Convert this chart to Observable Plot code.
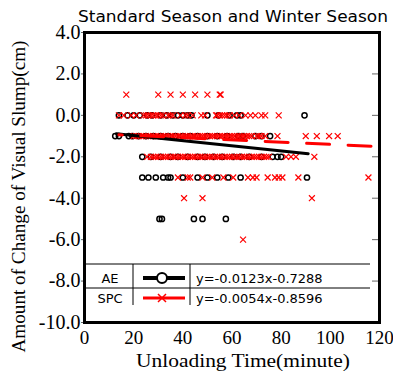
<!DOCTYPE html>
<html><head><meta charset="utf-8">
<script src="https://cdn.jsdelivr.net/npm/d3@7"></script>
<script src="https://cdn.jsdelivr.net/npm/@observablehq/plot@0.6"></script>
<style>body{margin:0;background:#fff} svg{display:block}</style>
</head><body><div id="chart"></div>
<script>
const title = "Standard Season and Winter Season";
const xLabel = "Unloading Time(minute)";
const yLabel = "Amount of Change of Visual Slump(cm)";
const xTicks = [0, 20, 40, 60, 80, 100, 120];
const yTicks = [4, 2, 0, -2, -4, -6, -8, -10];
const seriesNames = ["AE", "SPC"];
const equations = ["y=-0.0123x-0.7288", "y=-0.0054x-0.8596"];
const aeCoef = [-0.0123, -0.7288];
const spcCoef = [-0.0054, -0.8596];
const aeFitRange = [13, 91];
const spcFitRange = [14, 117];

// AE (black circles): unloading times per slump-change row
const aeRow0 = [14, 17.5, 20, 22.5, 25.5, 27.5, 31, 33.5, 36, 38, 40, 42, 43.5, 50, 54.5, 59, 62, 63.5, 89.5];
const aeRowM1 = [12.5, 14, 18, 19.5, 22, 25, 28, 31, 34, 37, 40, 43, 46, 50, 54, 58, 62.5, 64.5, 69.5, 72, 75.5];
const aeRowM2 = [23.5, 27, 31, 35, 38, 42, 46, 49, 52.5, 56, 60.5, 63.5, 67, 72, 76.5, 78.5, 80];
const aeRowM3 = [23.5, 26, 29, 32, 34, 35, 40, 46, 50, 54, 58.5, 63.5, 90.5];
const aeRowM5 = [30.5, 31.5, 44.5, 48, 57.5];

// SPC (red crosses)
const spcRow1 = [17, 30, 35, 40, 45, 50, 55, 55.4];
const spcRow0 = [14, 16, 19, 21, 24, 25, 26, 27, 28, 29, 30, 31, 32, 34, 35, 36, 39, 41, 42, 44, 47.5, 49, 53.5, 54, 55, 56, 57, 58, 59, 61, 63, 65.5, 67.5, 69.5, 72, 73.5, 79];
const spcRowM1 = [20, 21, 22, 23, 24, 25, 26, 27, 28, 29, 30, 31, 32, 33, 34, 35, 36, 37, 38, 39, 40, 41, 42, 43, 44, 45, 46, 47, 48, 49, 50, 51, 52, 53, 54, 55, 56, 57, 58, 59, 60, 61, 62, 63, 64, 65, 66, 67, 68, 70, 71, 72, 73.5, 78.5, 90, 94.5, 99.5, 103];
const spcRowM2 = [25.5, 27, 28, 29, 30, 31, 32, 33, 34, 35, 36, 37, 38, 39, 40, 41, 42, 43, 44, 45, 46, 47, 48, 49, 50, 51, 52, 53, 54, 55, 56, 57, 58, 59, 60, 61, 62, 63, 64, 65, 66, 67, 68, 69, 70, 71, 72, 73, 74, 75, 82, 84, 86, 93.5];
const spcRowM3 = [38, 42, 43, 48, 52, 56.5, 60.5, 66.5, 68.5, 70, 74.5, 77.5, 79, 80.5, 87, 115.5];
const spcRowM4 = [40.5, 48, 92.5];
const spcRowM6 = [64.5];

const aeRows = [[0, aeRow0], [-1, aeRowM1], [-2, aeRowM2], [-3, aeRowM3], [-5, aeRowM5]];
const spcRows = [[1, spcRow1], [0, spcRow0], [-1, spcRowM1], [-2, spcRowM2], [-3, spcRowM3], [-4, spcRowM4], [-6, spcRowM6]];

const flatten = rows => rows.flatMap(([y, xs]) => xs.map(x => ({x, y})));
const ae = flatten(aeRows);
const spc = flatten(spcRows);
const fit = (range, [a, b]) => range.map(x => ({x, y: a * x + b}));
const aeFit = fit(aeFitRange, aeCoef);
const spcFit = fit(spcFitRange, spcCoef);

const serif = "'Liberation Serif', 'Times New Roman', serif";
const sans = "'DejaVu Sans', sans-serif";

const plot = Plot.plot({
  width: 393, height: 372,
  marginLeft: 84, marginRight: 14, marginTop: 32, marginBottom: 50,
  x: {domain: [0, 120]},
  y: {domain: [-10, 4]},
  style: {fontFamily: serif, background: "white", color: "black"},
  marks: [
    Plot.axisY({ticks: yTicks, tickFormat: d => d.toFixed(1), tickSize: 3, tickPadding: 1, fontSize: 20, label: null, stroke: "#666"}),
    Plot.axisY({anchor: "right", ticks: yTicks, tickSize: -8, tickFormat: () => "", label: null, stroke: "#666"}),
    Plot.axisX({ticks: xTicks, tickSize: 0, tickPadding: 8, fontSize: 19, label: null}),
    Plot.dot(ae, {x: "x", y: "y", r: 2.6, stroke: "black", strokeWidth: 1.5, fill: "none"}),
    Plot.dot(spc, {x: "x", y: "y", symbol: "times", r: 2.8, stroke: "red", strokeWidth: 1.2}),
    Plot.line(aeFit, {x: "x", y: "y", stroke: "black", strokeWidth: 3}),
    Plot.line(spcFit, {x: "x", y: "y", stroke: "red", strokeWidth: 3, strokeDasharray: "23,18.5", strokeDashoffset: 19.6}),
    Plot.frame({stroke: "black", strokeWidth: 3}),
    Plot.text([title], {frameAnchor: "top", lineAnchor: "middle", textAnchor: "middle", dy: -15, dx: 1, fontFamily: sans, fontSize: 15}),
    Plot.text([xLabel], {frameAnchor: "bottom", lineAnchor: "middle", textAnchor: "middle", dy: 38, dx: 11, fontFamily: serif, fontSize: 19}),
    Plot.text([yLabel], {frameAnchor: "left", lineAnchor: "middle", textAnchor: "middle", dx: -66, dy: 19, rotate: -90, fontFamily: serif, fontSize: 19})
  ]
});

const svg = d3.select(plot);
const stretch = (str, len) => svg.selectAll("text").filter(function () { return this.textContent === str; })
  .attr("textLength", len).attr("lengthAdjust", "spacingAndGlyphs");
stretch(title, 310);
stretch(xLabel, 214);
stretch(yLabel, 312);

// legend table inside the frame
const lg = svg.append("g").attr("font-family", sans).attr("font-size", 13).attr("text-anchor", "start");
const L = {left: 85, right: 370, top: 264, mid: 288, bottom: 305, c1: 133, c2: 190};
lg.append("line").attr("x1", L.left).attr("x2", L.right).attr("y1", L.top).attr("y2", L.top).attr("stroke", "black");
lg.append("line").attr("x1", L.left).attr("x2", L.right).attr("y1", L.mid).attr("y2", L.mid).attr("stroke", "black");
for (const cx of [L.c1, L.c2]) lg.append("line").attr("x1", cx).attr("x2", cx).attr("y1", L.top).attr("y2", L.bottom).attr("stroke", "black");
const rowsY = [278, 298];
seriesNames.forEach((name, i) => {
  const y = rowsY[i];
  lg.append("text").attr("x", (L.left + L.c1) / 2 + 1).attr("y", y).attr("dy", "0.35em").attr("text-anchor", "middle").text(name);
  lg.append("line").attr("x1", L.c1 + 10).attr("x2", L.c2 - 5).attr("y1", y).attr("y2", y)
    .attr("stroke", i === 0 ? "black" : "red").attr("stroke-width", i === 0 ? 4 : 3);
  const mx = 162;
  if (i === 0) {
    lg.append("circle").attr("cx", mx).attr("cy", y).attr("r", 5).attr("fill", "white").attr("stroke", "black").attr("stroke-width", 2);
  } else {
    lg.append("path").attr("d", `M${mx-4},${y-4}L${mx+4},${y+4}M${mx-4},${y+4}L${mx+4},${y-4}`).attr("stroke", "red").attr("stroke-width", 1.5);
  }
  lg.append("text").attr("x", L.c2 + 6).attr("y", y).attr("dy", "0.35em").attr("text-anchor", "start").text(equations[i]);
});

document.getElementById("chart").appendChild(plot);
</script>
</body></html>
